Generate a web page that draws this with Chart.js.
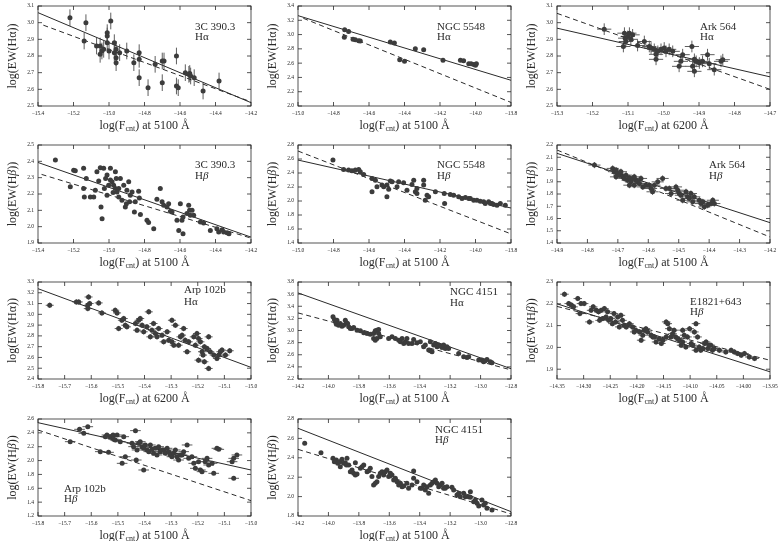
<!DOCTYPE html>
<html>
<head>
<meta charset="utf-8">
<script src="https://cdn.jsdelivr.net/npm/chart.js@4.4.0/dist/chart.umd.min.js"></script>
<style>
html, body { margin: 0; padding: 0; background: #fff; width: 779px; height: 541px; overflow: hidden; }
canvas { position: absolute; }
</style>
</head>
<body>
<script>
// ---- data: [log F_cnt, log EW] ----
const p1 = [[-15.22,3.03],[-15.13,3.0],[-15.14,2.89],[-15.07,2.86],[-15.05,2.86],[-15.04,2.83],[-15.05,2.81],[-15.03,2.84],[-15.01,2.94],[-15.01,2.92],[-15.01,2.88],[-14.99,3.01],[-15.0,2.83],[-14.97,2.82],[-14.97,2.88],[-14.96,2.84],[-14.96,2.79],[-14.96,2.76],[-14.94,2.82],[-14.90,2.83],[-14.86,2.76],[-14.83,2.82],[-14.83,2.78],[-14.83,2.67],[-14.78,2.61],[-14.74,2.75],[-14.70,2.77],[-14.69,2.77],[-14.70,2.64],[-14.62,2.80],[-14.62,2.62],[-14.61,2.61],[-14.57,2.70],[-14.55,2.69],[-14.545,2.695],[-14.54,2.68],[-14.52,2.67],[-14.47,2.59],[-14.38,2.65]];
const p2 = [[-14.739,2.964],[-14.69,2.936],[-14.677,2.927],[-14.658,2.913],[-14.649,2.909],[-14.292,2.788],[-14.427,2.649],[-14.40,2.626],[-14.737,3.066],[-14.715,3.043],[-14.48,2.895],[-14.457,2.881],[-14.339,2.802],[-14.183,2.64],[-14.085,2.64],[-14.067,2.635],[-14.038,2.59],[-14.025,2.59],[-14.01,2.58],[-14.0,2.57],[-13.995,2.593]];
const p3 = [[-15.167,2.961],[-15.11,2.937],[-15.108,2.907],[-15.106,2.887],[-15.101,2.917],[-15.096,2.937],[-15.092,2.90],[-15.087,2.927],[-15.113,2.857],[-15.073,2.863],[-15.054,2.887],[-15.04,2.857],[-15.035,2.848],[-15.026,2.84],[-15.021,2.81],[-15.016,2.828],[-15.007,2.84],[-14.998,2.848],[-14.993,2.828],[-14.984,2.84],[-14.974,2.828],[-15.021,2.78],[-14.951,2.768],[-14.946,2.808],[-14.92,2.857],[-14.913,2.78],[-14.918,2.738],[-14.908,2.768],[-14.899,2.758],[-14.89,2.768],[-14.876,2.808],[-14.871,2.754],[-14.857,2.718],[-14.838,2.768],[-14.833,2.778],[-14.913,2.708],[-14.956,2.738]];
const p4 = [[-15.302,2.408],[-15.199,2.346],[-15.19,2.342],[-15.218,2.244],[-15.143,2.357],[-15.128,2.295],[-15.143,2.234],[-15.139,2.182],[-15.105,2.182],[-15.086,2.182],[-15.077,2.223],[-15.068,2.336],[-15.058,2.279],[-15.049,2.361],[-15.045,2.121],[-15.039,2.049],[-15.03,2.357],[-15.026,2.234],[-15.019,2.295],[-15.011,2.316],[-15.011,2.193],[-15.002,2.254],[-14.992,2.357],[-14.992,2.285],[-14.983,2.275],[-14.977,2.209],[-14.974,2.254],[-14.964,2.234],[-14.964,2.336],[-14.959,2.295],[-14.955,2.213],[-14.945,2.182],[-14.936,2.295],[-14.945,2.234],[-14.927,2.162],[-14.917,2.254],[-14.908,2.121],[-14.902,2.141],[-14.899,2.223],[-14.889,2.275],[-14.884,2.152],[-14.88,2.193],[-14.87,2.213],[-14.857,2.09],[-14.852,2.152],[-14.833,2.217],[-14.829,2.176],[-14.823,2.074],[-14.786,2.039],[-14.777,2.025],[-14.748,1.988],[-14.73,2.168],[-14.711,2.234],[-14.701,2.152],[-14.692,2.131],[-14.673,2.121],[-14.664,2.141],[-14.654,2.094],[-14.645,2.09],[-14.617,2.039],[-14.598,2.141],[-14.589,2.039],[-14.583,2.059],[-14.561,2.08],[-14.551,2.131],[-14.546,2.10],[-14.532,2.10],[-14.523,2.07],[-14.542,2.07],[-14.583,1.957],[-14.607,1.977],[-14.485,2.029],[-14.467,2.023],[-14.429,1.977],[-14.392,1.988],[-14.382,1.967],[-14.363,1.981],[-14.354,1.967],[-14.335,1.963],[-14.324,1.957]];
const p5 = [[-14.803,2.585],[-14.743,2.451],[-14.715,2.442],[-14.696,2.432],[-14.677,2.442],[-14.658,2.451],[-14.649,2.418],[-14.63,2.38],[-14.583,2.322],[-14.564,2.298],[-14.555,2.203],[-14.583,2.131],[-14.527,2.227],[-14.517,2.203],[-14.499,2.227],[-14.489,2.169],[-14.499,2.059],[-14.48,2.284],[-14.47,2.274],[-14.442,2.203],[-14.433,2.274],[-14.405,2.26],[-14.386,2.155],[-14.358,2.236],[-14.348,2.298],[-14.339,2.131],[-14.33,2.179],[-14.33,2.107],[-14.292,2.298],[-14.292,2.227],[-14.273,2.083],[-14.283,2.012],[-14.264,2.059],[-14.226,2.131],[-14.176,2.107],[-14.174,1.964],[-14.142,2.093],[-14.123,2.083],[-14.095,2.059],[-14.076,2.036],[-14.057,2.05],[-14.038,2.036],[-14.029,2.036],[-14.01,2.012],[-13.992,2.012],[-13.973,1.997],[-13.954,1.988],[-13.945,1.964],[-13.926,1.988],[-13.916,1.964],[-13.907,1.964],[-13.898,1.95],[-13.879,1.94],[-13.86,1.964],[-13.832,1.94]];
const p6 = [[-14.777,2.036],[-14.717,2.009],[-14.712,1.982],[-14.706,1.995],[-14.701,1.968],[-14.695,1.954],[-14.706,1.94],[-14.69,1.982],[-14.684,1.94],[-14.679,1.927],[-14.673,1.954],[-14.668,1.913],[-14.662,1.932],[-14.657,1.899],[-14.651,1.927],[-14.646,1.94],[-14.64,1.913],[-14.635,1.899],[-14.629,1.886],[-14.624,1.927],[-14.646,1.872],[-14.662,1.872],[-14.618,1.858],[-14.608,1.872],[-14.597,1.872],[-14.591,1.845],[-14.586,1.818],[-14.58,1.872],[-14.569,1.899],[-14.553,1.927],[-14.542,1.845],[-14.531,1.845],[-14.525,1.804],[-14.509,1.858],[-14.503,1.831],[-14.498,1.804],[-14.493,1.79],[-14.487,1.749],[-14.476,1.818],[-14.471,1.777],[-14.465,1.763],[-14.46,1.804],[-14.454,1.736],[-14.449,1.777],[-14.432,1.749],[-14.427,1.722],[-14.421,1.736],[-14.416,1.695],[-14.405,1.708],[-14.394,1.722],[-14.383,1.722],[-14.388,1.749]];
const p7 = [[-15.756,3.084],[-15.656,3.115],[-15.647,3.115],[-15.61,3.161],[-15.613,3.084],[-15.613,3.053],[-15.606,3.1],[-15.572,3.106],[-15.56,3.013],[-15.51,3.038],[-15.503,3.013],[-15.497,2.868],[-15.485,2.945],[-15.478,2.961],[-15.472,2.899],[-15.466,2.884],[-15.434,2.915],[-15.428,2.853],[-15.422,2.945],[-15.416,2.961],[-15.409,2.899],[-15.403,2.838],[-15.391,2.884],[-15.384,3.023],[-15.378,2.791],[-15.372,2.853],[-15.366,2.915],[-15.359,2.822],[-15.353,2.791],[-15.347,2.868],[-15.334,2.807],[-15.328,2.745],[-15.315,2.838],[-15.309,2.76],[-15.297,2.945],[-15.297,2.745],[-15.29,2.714],[-15.284,2.899],[-15.272,2.714],[-15.265,2.791],[-15.259,2.807],[-15.253,2.868],[-15.247,2.76],[-15.24,2.653],[-15.234,2.745],[-15.215,2.791],[-15.209,2.714],[-15.203,2.822],[-15.197,2.776],[-15.19,2.745],[-15.184,2.653],[-15.18,2.622],[-15.175,2.699],[-15.165,2.683],[-15.159,2.791],[-15.153,2.653],[-15.14,2.622],[-15.128,2.591],[-15.121,2.622],[-15.115,2.653],[-15.109,2.668],[-15.096,2.622],[-15.197,2.575],[-15.175,2.56],[-15.159,2.498],[-15.08,2.662]];
const p8 = [[-13.97,3.225],[-13.961,3.181],[-13.954,3.143],[-13.944,3.17],[-13.948,3.104],[-13.933,3.088],[-13.922,3.115],[-13.911,3.071],[-13.9,3.088],[-13.889,3.17],[-13.882,3.126],[-13.874,3.115],[-13.867,3.06],[-13.856,3.033],[-13.845,3.033],[-13.834,3.049],[-13.812,3.006],[-13.79,2.995],[-13.768,2.962],[-13.746,2.951],[-13.725,2.94],[-13.703,2.951],[-13.692,2.995],[-13.681,3.006],[-13.67,3.017],[-13.67,2.951],[-13.703,2.869],[-13.692,2.841],[-13.681,2.869],[-13.659,2.896],[-13.604,2.869],[-13.582,2.896],[-13.56,2.869],[-13.538,2.841],[-13.527,2.814],[-13.516,2.869],[-13.505,2.786],[-13.494,2.814],[-13.484,2.869],[-13.473,2.786],[-13.451,2.786],[-13.44,2.852],[-13.418,2.797],[-13.396,2.814],[-13.374,2.732],[-13.363,2.759],[-13.341,2.677],[-13.33,2.666],[-13.319,2.649],[-13.33,2.814],[-13.308,2.759],[-13.297,2.786],[-13.286,2.732],[-13.275,2.759],[-13.264,2.743],[-13.253,2.721],[-13.243,2.759],[-13.232,2.704],[-13.221,2.732],[-13.21,2.704],[-13.144,2.622],[-13.111,2.567],[-13.089,2.556],[-13.078,2.567],[-13.012,2.512],[-12.991,2.512],[-12.98,2.485],[-12.969,2.501],[-12.958,2.523],[-12.936,2.485],[-12.925,2.469]];
const p9 = [[-14.336,2.244],[-14.328,2.201],[-14.323,2.194],[-14.319,2.186],[-14.311,2.224],[-14.307,2.155],[-14.305,2.201],[-14.299,2.201],[-14.289,2.117],[-14.286,2.17],[-14.282,2.186],[-14.276,2.17],[-14.272,2.163],[-14.27,2.124],[-14.267,2.17],[-14.264,2.132],[-14.261,2.178],[-14.258,2.14],[-14.255,2.163],[-14.253,2.124],[-14.249,2.132],[-14.246,2.109],[-14.243,2.155],[-14.24,2.117],[-14.236,2.14],[-14.233,2.094],[-14.23,2.147],[-14.227,2.124],[-14.224,2.102],[-14.22,2.094],[-14.214,2.109],[-14.208,2.094],[-14.205,2.071],[-14.202,2.079],[-14.195,2.071],[-14.192,2.033],[-14.189,2.056],[-14.186,2.079],[-14.183,2.086],[-14.18,2.071],[-14.173,2.056],[-14.17,2.048],[-14.167,2.048],[-14.164,2.025],[-14.158,2.04],[-14.154,2.018],[-14.151,2.033],[-14.145,2.048],[-14.145,2.117],[-14.142,2.109],[-14.139,2.086],[-14.136,2.048],[-14.133,2.063],[-14.13,2.079],[-14.127,2.048],[-14.123,2.04],[-14.12,2.033],[-14.117,2.01],[-14.114,2.025],[-14.114,2.079],[-14.111,2.056],[-14.108,2.002],[-14.105,2.048],[-14.101,2.086],[-14.098,2.018],[-14.095,2.01],[-14.092,2.071],[-14.089,2.109],[-14.089,1.987],[-14.086,2.048],[-14.083,2.002],[-14.08,1.987],[-14.076,1.995],[-14.073,2.018],[-14.07,2.025],[-14.067,1.995],[-14.064,2.01],[-14.061,2.01],[-14.058,1.987],[-14.055,1.995],[-14.045,1.987],[-14.033,1.979],[-14.023,1.987],[-14.017,1.979],[-14.011,1.972],[-14.004,1.964],[-13.998,1.972],[-13.989,1.956],[-13.979,1.949]];
const p10 = [[-15.679,2.273],[-15.644,2.451],[-15.613,2.489],[-15.628,2.393],[-15.566,2.129],[-15.535,2.119],[-15.547,2.345],[-15.541,2.369],[-15.528,2.345],[-15.518,2.369],[-15.503,2.369],[-15.51,2.297],[-15.491,2.273],[-15.478,2.345],[-15.472,2.056],[-15.447,2.249],[-15.441,2.201],[-15.434,2.432],[-15.428,2.153],[-15.422,2.249],[-15.416,2.273],[-15.409,2.201],[-15.403,2.177],[-15.397,2.225],[-15.391,2.153],[-15.384,2.129],[-15.378,2.225],[-15.372,2.162],[-15.366,2.105],[-15.359,2.177],[-15.353,2.081],[-15.347,2.201],[-15.341,2.129],[-15.334,2.153],[-15.328,2.153],[-15.322,2.105],[-15.315,2.177],[-15.309,2.129],[-15.303,2.081],[-15.297,2.056],[-15.29,2.105],[-15.284,2.153],[-15.278,2.056],[-15.272,2.008],[-15.265,2.081],[-15.259,2.081],[-15.253,2.129],[-15.24,2.225],[-15.234,2.032],[-15.222,2.056],[-15.215,1.96],[-15.209,1.888],[-15.197,1.984],[-15.19,1.864],[-15.184,1.84],[-15.172,1.984],[-15.165,2.032],[-15.159,1.936],[-15.146,1.96],[-15.14,1.816],[-15.128,2.177],[-15.121,2.162],[-15.071,1.984],[-15.065,2.032],[-15.053,2.081],[-15.065,1.744],[-15.403,1.864],[-15.484,1.96],[-15.431,2.008],[-15.516,2.307]];
const p11 = [[-14.156,2.549],[-14.049,2.453],[-13.97,2.395],[-13.961,2.36],[-13.948,2.377],[-13.939,2.343],[-13.926,2.36],[-13.922,2.309],[-13.911,2.384],[-13.9,2.343],[-13.889,2.35],[-13.882,2.326],[-13.878,2.395],[-13.867,2.326],[-13.856,2.257],[-13.845,2.274],[-13.834,2.24],[-13.823,2.223],[-13.812,2.233],[-13.823,2.35],[-13.79,2.291],[-13.779,2.309],[-13.768,2.326],[-13.746,2.257],[-13.735,2.267],[-13.725,2.291],[-13.714,2.206],[-13.703,2.12],[-13.692,2.137],[-13.681,2.154],[-13.67,2.206],[-13.659,2.24],[-13.648,2.257],[-13.637,2.223],[-13.626,2.257],[-13.615,2.274],[-13.604,2.206],[-13.593,2.24],[-13.582,2.223],[-13.571,2.171],[-13.56,2.188],[-13.549,2.154],[-13.538,2.12],[-13.527,2.137],[-13.516,2.102],[-13.505,2.109],[-13.484,2.137],[-13.473,2.085],[-13.451,2.12],[-13.44,2.264],[-13.44,2.188],[-13.418,2.154],[-13.396,2.085],[-13.385,2.085],[-13.374,2.12],[-13.363,2.068],[-13.352,2.102],[-13.341,2.034],[-13.33,2.12],[-13.319,2.137],[-13.308,2.154],[-13.297,2.171],[-13.286,2.137],[-13.275,2.102],[-13.264,2.12],[-13.253,2.137],[-13.243,2.085],[-13.232,2.085],[-13.221,2.102],[-13.188,2.096],[-13.177,2.068],[-13.155,2.017],[-13.144,2.034],[-13.133,1.999],[-13.111,2.034],[-13.1,1.999],[-13.078,1.999],[-13.067,1.993],[-13.045,1.948],[-13.034,1.965],[-13.023,1.931],[-13.012,1.903],[-12.991,1.965],[-12.98,1.914],[-12.969,1.931],[-12.958,1.879],[-12.925,1.862],[-13.067,2.051]];
const panelPoints = [p1, p2, p3, p4, p5, p6, p7, p8, p9, p10, p11];

// fitted relations: [x1, y1, x2, y2]; dashed is null where absent
const fitSolid = [[-15.4,3.06,-14.2,2.52],[-15.0,3.265,-13.8,2.36],[-15.3,2.967,-14.7,2.675],[-15.4,2.393,-14.2,1.936],[-15.0,2.585,-13.8,1.9],[-14.9,2.132,-14.2,1.566],[-15.8,3.238,-15.0,2.508],[-14.2,3.62,-12.8,2.37],[-14.35,2.2,-13.95,1.888],[-15.8,2.547,-15.0,1.864],[-14.2,2.704,-12.8,1.845]];
const fitDashed = [[-15.37,2.985,-14.2,2.525],[-14.97,3.228,-13.8,2.05],[-15.3,3.056,-14.7,2.60],[-15.38,2.32,-14.2,1.93],[-15.0,2.714,-13.8,1.53],[-14.9,2.159,-14.2,1.449],null,[-14.2,3.29,-12.8,2.35],[-14.35,2.188,-13.95,1.941],[-15.8,2.441,-15.0,1.422],[-14.2,2.487,-12.8,1.821]];

// typical error bars per object
const xErr = [0.004, 0.004, 0.02, 0, 0.004, 0.02, 0.015, 0.005, 0.008, 0.02, 0.005];
const yErr = [0.05, 0.02, 0.035, 0, 0.012, 0.025, 0.025, 0.012, 0.012, 0.012, 0.01];

// axis ranges: [min, max, step]
const xRanges = [[-15.4,-14.2,0.2],[-15.0,-13.8,0.2],[-15.3,-14.7,0.1],[-15.4,-14.2,0.2],[-15.0,-13.8,0.2],[-14.9,-14.2,0.1],[-15.8,-15.0,0.1],[-14.2,-12.8,0.2],[-14.35,-13.95,0.05],[-15.8,-15.0,0.1],[-14.2,-12.8,0.2]];
const yRanges = [[2.5,3.1,0.1],[2.0,3.4,0.2],[2.5,3.1,0.1],[1.9,2.5,0.1],[1.4,2.8,0.2],[1.4,2.2,0.1],[2.4,3.3,0.1],[2.2,3.8,0.2],[1.855,2.3,0.1],[1.2,2.6,0.2],[1.8,2.8,0.2]];

const objectNames = ['3C 390.3','NGC 5548','Ark 564','3C 390.3','NGC 5548','Ark 564','Arp 102b','NGC 4151','E1821+643','Arp 102b','NGC 4151'];
const lineNames = ['α','α','α','β','β','β','α','α','β','β','β'];
const contWave = ['5100','5100','6200','5100','5100','5100','6200','5100','5100','5100','5100'];

// ---- layout / style ----
const colLeft = [37.7, 297.7, 556.7];
const rowTop = [6, 145, 282, 419];
const rowH = [100, 98, 97, 97];
const PLOT_W = 213, W_Y = 37, PAD_T = 5, PAD_R = 9, H_X = 32;
// label placement inside each panel: [dx from left, dy line 1, dy line 2]
const labelPos = [[157,21.5,31.5],[139,21.5,31.5],[143,21.5,31.5],[157,20,31],[139,20,31],[152,20,31],[146,8,20],[152,10,21.5],[133,20,30],[26,70,80],[137,11.5,21.5]];

const SERIF = '"Liberation Serif", "DejaVu Serif", serif';
const INK = '#2a2a2a';
const MARK = '#3c3c3c';

function fmt(v, d) { return (v < 0 ? '\u2212' : '') + Math.abs(v).toFixed(d); }

function makeTicks(r) {
  const out = [];
  let k = Math.ceil(r[0] / r[2] - 1e-6);
  while (k * r[2] <= r[1] + 1e-6) { out.push(Math.round(k * r[2] * 1000) / 1000); k++; }
  return out;
}

function drawSegments(ctx, parts, cx, cy) {
  let total = 0;
  parts.forEach(p => { ctx.font = p.font; total += ctx.measureText(p.t).width; });
  let x = cx - total / 2;
  parts.forEach(p => {
    ctx.font = p.font;
    ctx.fillText(p.t, x, cy + (p.dy || 0));
    x += ctx.measureText(p.t).width;
  });
}

const framePlugin = {
  id: 'frame',
  beforeDatasetsDraw(chart, args, opts) {
    const i = opts.idx, ctx = chart.ctx, ca = chart.chartArea;
    const xs = chart.scales.x, ys = chart.scales.y;
    ctx.save();
    ctx.beginPath();
    ctx.rect(ca.left, ca.top, ca.right - ca.left, ca.bottom - ca.top);
    ctx.clip();
    ctx.strokeStyle = '#5e5e5e';
    ctx.lineWidth = 1;
    panelPoints[i].forEach(p => {
      const px = xs.getPixelForValue(p[0]), py = ys.getPixelForValue(p[1]);
      ctx.beginPath();
      if (xErr[i] > 0) {
        ctx.moveTo(xs.getPixelForValue(p[0] - xErr[i]), py);
        ctx.lineTo(xs.getPixelForValue(p[0] + xErr[i]), py);
      }
      if (yErr[i] > 0) {
        ctx.moveTo(px, ys.getPixelForValue(p[1] - yErr[i]));
        ctx.lineTo(px, ys.getPixelForValue(p[1] + yErr[i]));
      }
      ctx.stroke();
    });
    ctx.restore();
  },
  afterDraw(chart, args, opts) {
    const i = opts.idx, ctx = chart.ctx, ca = chart.chartArea;
    const xs = chart.scales.x, ys = chart.scales.y;
    ctx.save();
    ctx.strokeStyle = INK;
    ctx.lineWidth = 0.8;
    ctx.strokeRect(ca.left, ca.top, ca.right - ca.left, ca.bottom - ca.top);
    ctx.beginPath();
    xs.ticks.forEach(t => {
      const px = xs.getPixelForValue(t.value);
      ctx.moveTo(px, ca.bottom); ctx.lineTo(px, ca.bottom - 4);
      ctx.moveTo(px, ca.top); ctx.lineTo(px, ca.top + 4);
    });
    ys.ticks.forEach(t => {
      const py = ys.getPixelForValue(t.value);
      ctx.moveTo(ca.left, py); ctx.lineTo(ca.left + 4, py);
      ctx.moveTo(ca.right, py); ctx.lineTo(ca.right - 4, py);
    });
    ctx.stroke();

    ctx.fillStyle = INK;
    ctx.textBaseline = 'middle';
    ctx.textAlign = 'left';
    const f12 = '12px ' + SERIF, f12i = 'italic 12px ' + SERIF, f8 = '8px ' + SERIF;
    const greek = lineNames[i] === 'β' ? f12i : f12;

    // x title with subscript
    drawSegments(ctx, [
      { t: 'log(F', font: f12 },
      { t: 'cnt', font: f8, dy: 3 },
      { t: ') at ' + contWave[i] + ' \u00C5', font: f12 }
    ], (ca.left + ca.right) / 2, ca.bottom + 20);

    // y title, rotated
    ctx.save();
    ctx.translate(ca.left - 25, (ca.top + ca.bottom) / 2);
    ctx.rotate(-Math.PI / 2);
    drawSegments(ctx, [
      { t: 'log(EW(H', font: f12 },
      { t: lineNames[i], font: greek },
      { t: '))', font: f12 }
    ], 0, 0);
    ctx.restore();

    // object label
    const lp = labelPos[i];
    ctx.font = '11px ' + SERIF;
    ctx.fillText(objectNames[i], ca.left + lp[0], ca.top + lp[1]);
    ctx.fillText('H', ca.left + lp[0], ca.top + lp[2]);
    const hw = ctx.measureText('H').width;
    ctx.font = (lineNames[i] === 'β' ? 'italic ' : '') + '11px ' + SERIF;
    ctx.fillText(lineNames[i], ca.left + lp[0] + hw, ca.top + lp[2]);
    ctx.restore();
  }
};

function axisOpts(range, horizontal) {
  const dec = range[2] < 0.1 ? 2 : 1;
  return {
    type: 'linear',
    min: range[0],
    max: range[1],
    afterBuildTicks: s => { s.ticks = makeTicks(range).map(v => ({ value: v })); },
    afterFit: s => {
      if (horizontal) { s.height = H_X; s.paddingLeft = 0; s.paddingRight = 0; }
      else { s.width = W_Y; s.paddingTop = 0; s.paddingBottom = 0; }
    },
    grid: { display: false, drawTicks: false },
    border: { display: false },
    ticks: {
      autoSkip: false,
      maxRotation: 0,
      padding: 4,
      color: '#1e1e1e',
      font: { family: SERIF, size: 5.5 },
      callback: v => fmt(v, dec)
    }
  };
}

function lineData(f) { return [{ x: f[0], y: f[1] }, { x: f[2], y: f[3] }]; }

for (let i = 0; i < panelPoints.length; i++) {
  const col = i % 3, row = Math.floor(i / 3);
  const w = W_Y + PLOT_W + PAD_R, h = PAD_T + rowH[row] + H_X;
  const cv = document.createElement('canvas');
  cv.width = w; cv.height = h;
  cv.style.left = (colLeft[col] - W_Y) + 'px';
  cv.style.top = (rowTop[row] - PAD_T) + 'px';
  cv.style.width = w + 'px'; cv.style.height = h + 'px';
  document.body.appendChild(cv);

  const datasets = [
    { data: panelPoints[i].map(p => ({ x: p[0], y: p[1] })), pointRadius: 2.5, pointHoverRadius: 2.5,
      backgroundColor: MARK, borderWidth: 0 },
    { type: 'line', data: lineData(fitSolid[i]), showLine: true, borderColor: INK, borderWidth: 1,
      pointRadius: 0, fill: false, tension: 0 }
  ];
  if (fitDashed[i]) {
    datasets.push({ type: 'line', data: lineData(fitDashed[i]), showLine: true, borderColor: INK, borderWidth: 1,
      borderDash: [5, 3.5], pointRadius: 0, fill: false, tension: 0 });
  }

  new Chart(cv, {
    type: 'scatter',
    data: { datasets },
    options: {
      responsive: false,
      animation: false,
      events: [],
      layout: { padding: { left: 0, top: PAD_T, right: PAD_R, bottom: 0 } },
      plugins: { legend: { display: false }, tooltip: { enabled: false }, frame: { idx: i } },
      scales: { x: axisOpts(xRanges[i], true), y: axisOpts(yRanges[i], false) }
    },
    plugins: [framePlugin]
  });
}
</script>
</body>
</html>
